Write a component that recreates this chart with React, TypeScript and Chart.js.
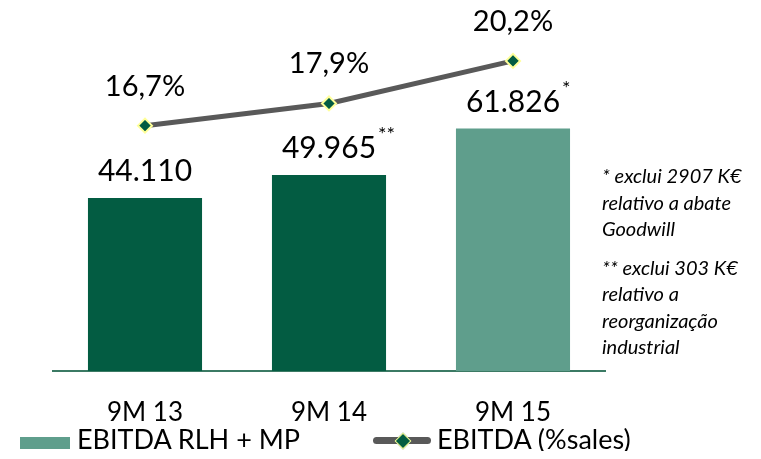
import React, { useEffect, useRef } from "react";
import { Chart, registerables } from "chart.js";

Chart.register(...registerables);

const categories = ["9M 13", "9M 14", "9M 15"];
const ebitdaValues = [44110, 49965, 61826];
const ebitdaLabels = ["44.110", "49.965", "61.826"];
const footnoteMarks = ["", "**", "*"];
const marginValues = [16.7, 17.9, 20.2];
const marginLabels = ["16,7%", "17,9%", "20,2%"];
const barSeriesName = "EBITDA RLH + MP";
const lineSeriesName = "EBITDA (%sales)";
const noteBlock1 = ["* exclui 2907 K€", "relativo a abate", "Goodwill"];
const noteBlock2 = ["** exclui 303 K€", "relativo a", "reorganização", "industrial"];

const DARK = "#035c42";
const TEAL = "#5f9e8c";
const GREY = "#595959";
const YELLOW = "#ffff99";
const barColors = [DARK, DARK, TEAL];
const FONT = "Lato, 'Open Sans', sans-serif";

const labelPlugin = {
  id: "valueLabels",
  afterDatasetsDraw(chart: any) {
    const ctx = chart.ctx;
    ctx.save();
    ctx.fillStyle = "#000";
    ctx.textBaseline = "alphabetic";
    const barMeta = chart.getDatasetMeta(0);
    barMeta.data.forEach((el: any, i: number) => {
      ctx.font = `30px ${FONT}`;
      const txt = ebitdaLabels[i];
      const y = el.y - 17;
      ctx.textAlign = "center";
      ctx.fillText(txt, el.x, y);
      const w = ctx.measureText(txt).width;
      if (footnoteMarks[i]) {
        ctx.font = `20px ${FONT}`;
        ctx.textAlign = "left";
        ctx.fillText(footnoteMarks[i], el.x + w / 2 + 2, y - 17);
      }
    });
    const lineMeta = chart.getDatasetMeta(1);
    lineMeta.data.forEach((el: any, i: number) => {
      ctx.font = `29px ${FONT}`;
      ctx.textAlign = "center";
      ctx.fillText(marginLabels[i], el.x, el.y - 30);
    });
    ctx.restore();
  },
};

export default function App() {
  const canvasRef = useRef<HTMLCanvasElement | null>(null);

  useEffect(() => {
    if (!canvasRef.current) return;
    const chart = new Chart(canvasRef.current, {
      type: "bar",
      data: {
        labels: categories,
        datasets: [
          {
            type: "bar",
            label: barSeriesName,
            data: ebitdaValues,
            backgroundColor: barColors,
            borderWidth: 0,
            barPercentage: 0.62,
            categoryPercentage: 1,
            yAxisID: "y",
            order: 2,
          },
          {
            type: "line",
            label: lineSeriesName,
            data: marginValues,
            borderColor: GREY,
            borderWidth: 5,
            pointStyle: "rectRot",
            pointRadius: 7,
            pointBackgroundColor: DARK,
            pointBorderColor: YELLOW,
            pointBorderWidth: 2,
            yAxisID: "y1",
            order: 1,
          } as any,
        ],
      },
      options: {
        animation: false,
        responsive: true,
        maintainAspectRatio: false,
        layout: { padding: { left: 45, right: 148, top: 12, bottom: 0 } },
        plugins: {
          legend: { display: false },
          tooltip: { enabled: false },
        },
        scales: {
          x: {
            grid: { display: false, drawTicks: false },
            border: { display: true, color: "#3b7a64", width: 2 },
            ticks: {
              color: "#000",
              font: { family: FONT, size: 26 },
              padding: 26,
            },
            afterFit: (scale: any) => {
              scale.height = 80;
            },
          },
          y: { display: false, min: 0, max: 89500 },
          y1: { display: false, min: 3.44, max: 22.41, position: "right" },
        },
      },
      plugins: [labelPlugin],
    });
    return () => chart.destroy();
  }, []);

  const noteStyle: React.CSSProperties = {
    fontFamily: FONT,
    fontStyle: "italic",
    fontSize: 20,
    lineHeight: "26.5px",
    color: "#000",
    whiteSpace: "nowrap",
  };

  const legendText: React.CSSProperties = {
    position: "absolute",
    top: 416,
    fontFamily: FONT,
    fontSize: 27,
    lineHeight: "30px",
    whiteSpace: "nowrap",
    color: "#000",
  };

  return (
    <div style={{ position: "relative", width: 745, height: 443, overflow: "hidden" }}>
      <canvas ref={canvasRef} />
      <div style={{ position: "absolute", left: 594, top: 154, ...noteStyle }}>
        {noteBlock1.map((l, i) => (
          <div key={"a" + i}>{l}</div>
        ))}
        <div style={{ height: 12 }} />
        {noteBlock2.map((l, i) => (
          <div key={"b" + i}>{l}</div>
        ))}
      </div>
      <div
        style={{
          position: "absolute",
          left: 12,
          top: 429,
          width: 50,
          height: 12,
          background: TEAL,
        }}
      />
      <div style={{ ...legendText, left: 69 }}>{barSeriesName}</div>
      <div
        style={{
          position: "absolute",
          left: 365,
          top: 429,
          width: 58,
          height: 7,
          borderRadius: 3.5,
          background: GREY,
        }}
      />
      <div
        style={{
          position: "absolute",
          left: 389,
          top: 427,
          width: 10,
          height: 10,
          background: DARK,
          border: `1.5px solid ${YELLOW}`,
          transform: "rotate(45deg)",
        }}
      />
      <div style={{ ...legendText, left: 429 }}>{lineSeriesName}</div>
    </div>
  );
}
